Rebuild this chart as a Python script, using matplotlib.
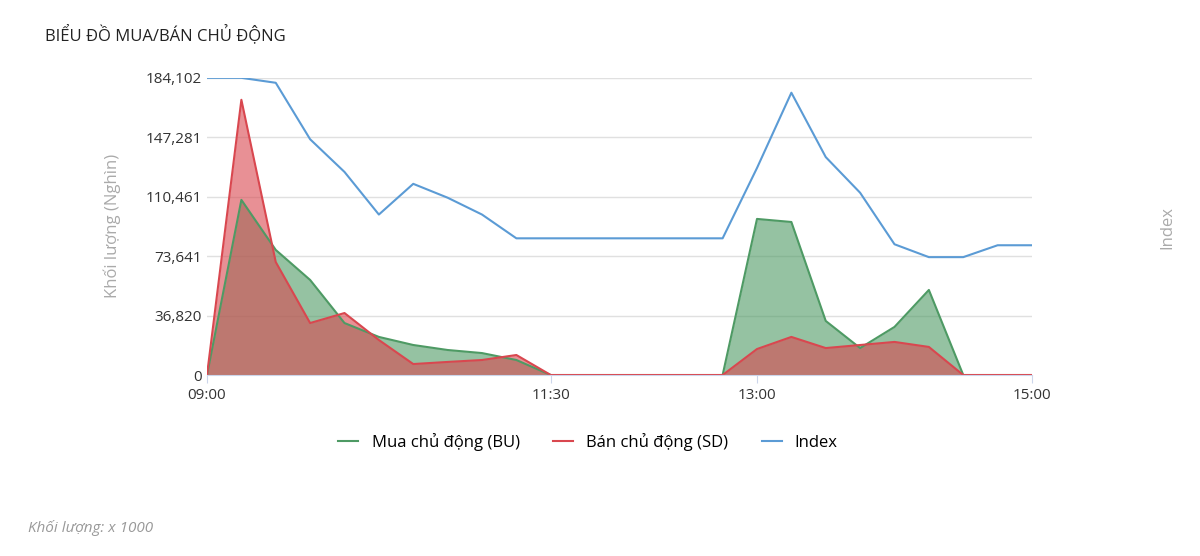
import matplotlib.pyplot as plt
import numpy as np

plt.rcParams['font.family'] = ['Open Sans', 'DejaVu Sans']

# minutes since 09:00, every 15 min (lunch break drawn continuous)
minutes = list(range(0, 361, 15))
bu = [0, 108500, 77500, 58900, 32200, 23600, 18600, 15500, 13600, 9300, 0,
      0, 0, 0, 0, 0, 96700, 94800, 33500, 16700, 29800, 52700, 0, 0, 0]
sd = [0, 170500, 70000, 32200, 38400, 21700, 6800, 8100, 9300, 12400, 0,
      0, 0, 0, 0, 0, 16100, 23600, 16700, 18600, 20500, 17400, 0, 0, 0]
index = [1270.0, 1270.0, 1269.5, 1263.8, 1260.5, 1256.2, 1259.3, 1257.9, 1256.2, 1253.8, 1253.8,
         1253.8, 1253.8, 1253.8, 1253.8, 1253.8, 1260.9, 1268.5, 1262.0, 1258.4, 1253.2,
         1251.9, 1251.9, 1253.1, 1253.1]
yticks = [0, 36820, 73641, 110461, 147281, 184102]
xtick_pos = [0, 150, 240, 360]
xtick_lab = ['09:00', '11:30', '13:00', '15:00']

green = '#4e9a64'
red = '#d9474f'
blue = '#5b9bd5'

fig = plt.figure(figsize=(12, 5.56), dpi=100)
ax = fig.add_axes([0.1725, 0.3255, 0.6875, 0.5345])
ax.fill_between(minutes, bu, color=green, alpha=0.6, lw=0)
ax.plot(minutes, bu, color=green, lw=1.5)
ax.fill_between(minutes, sd, color=red, alpha=0.6, lw=0)
ax.plot(minutes, sd, color=red, lw=1.5)
ax.set_xlim(0, 360)
ax.set_ylim(0, 184102)
ax.set_yticks(yticks)
ax.set_yticklabels([f'{v:,}' for v in yticks])
ax.set_xticks(xtick_pos)
ax.set_xticklabels(xtick_lab)
ax.grid(axis='y', color='#e0e0e0', lw=1)
ax.set_axisbelow(True)
for s in ['top', 'right', 'left']:
    ax.spines[s].set_visible(False)
ax.spines['bottom'].set_color('#ccd6eb')
ax.tick_params(axis='y', length=0, labelsize=11, colors='#333333')
ax.tick_params(axis='x', length=6, color='#ccd6eb', labelsize=11, colors='#333333')
ax.set_ylabel('Khối lượng (Nghìn)', color='#aaaaaa', fontsize=12, labelpad=18)

ax2 = ax.twinx()
ax2.plot(minutes, index, color=blue, lw=1.5)
ax2.set_ylim(1240, 1270)
ax2.set_yticks([])
for s in ax2.spines.values():
    s.set_visible(False)
fig.text(0.973, 0.59, 'Index', rotation=90, color='#aaaaaa', fontsize=12, ha='center', va='center')

fig.text(0.0375, 0.937, 'BIỂU ĐỒ MUA/BÁN CHỦ ĐỘNG', fontsize=12, color='#222222', va='center')
fig.text(0.023, 0.05, 'Khối lượng: x 1000', fontsize=11, color='#999999', style='italic', va='center')

from matplotlib.lines import Line2D
handles = [Line2D([], [], color=green, lw=1.5), Line2D([], [], color=red, lw=1.5),
           Line2D([], [], color=blue, lw=1.5)]
fig.legend(handles, ['Mua chủ động (BU)', 'Bán chủ động (SD)', 'Index'],
           loc='center', bbox_to_anchor=(0.49, 0.205), ncol=3, frameon=False,
           fontsize=12, handlelength=1.2, columnspacing=2)

fig.savefig('out.png', dpi=100)
